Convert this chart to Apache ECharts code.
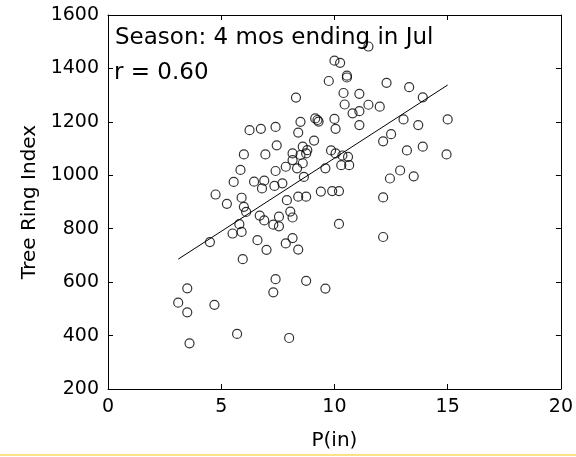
<!DOCTYPE html>
<html>
<head>
<meta charset="utf-8">
<script src="https://cdn.jsdelivr.net/npm/echarts@6/dist/echarts.min.js"></script>
<style>
  html, body { margin: 0; padding: 0; background: #fff; }
  #chart { width: 576px; height: 457px; }
</style>
</head>
<body>
<div id="chart"></div>
<script>
// Precipitation (in) for the 4-month season ending in July
const precipX = [
  3.5, 3.1, 3.5, 4.7, 3.6, 5.7, 8.0, 7.4, 7.3, 8.75,
  9.6, 5.95, 4.5, 5.5, 5.9, 5.8, 6.6, 7.0, 7.85, 8.15,
  8.4, 4.75, 5.25, 5.9, 6.0, 6.1, 6.7, 6.9, 7.3, 7.55,
  7.55, 7.9, 8.05, 8.15, 8.4, 8.75, 10.2, 9.4, 9.9, 10.2,
  6.0, 6.95, 5.85, 5.55, 6.45, 6.9, 7.4, 6.8, 7.35, 7.7,
  7.45, 6.25, 6.75, 7.4, 8.3, 8.5, 8.4, 8.6, 9.1, 8.8,
  8.15, 8.5, 8.75, 8.15, 8.6, 8.35, 7.85, 8.65, 9.15, 9.3,
  9.25, 9.75, 10.0, 10.25, 11.5, 10.55, 10.55, 12.3, 13.3, 13.9,
  10.4, 11.1, 10.45, 11.5, 12.0, 10.8, 11.1, 11.1, 10.0, 10.05,
  13.05, 13.7, 15.0, 12.5, 12.15, 13.2, 13.9, 14.95, 9.85, 10.05,
  10.35, 10.6, 10.3, 10.65, 9.6, 12.9, 12.45, 13.5, 12.15, 12.15
];

// Tree ring index for the same years
const ringIndex = [
  577, 523, 487, 515, 371, 406, 391, 611, 562, 605,
  576, 686, 750, 782, 788, 817, 757, 721, 745, 765,
  722, 928, 893, 916, 882, 863, 849, 831, 815, 809,
  845, 907, 864, 842, 920, 920, 818, 939, 941, 941,
  1078, 1078, 1020, 975, 976, 980, 1016, 951, 960, 970,
  1112, 1169, 1174, 1181, 1291, 1200, 1160, 1107, 1130, 1094,
  1082, 1076, 1082, 1057, 1045, 1026, 1032, 994, 1213, 1201,
  1207, 1353, 1429, 1421, 1482, 1373, 1366, 1346, 1330, 1292,
  1308, 1305, 1265, 1264, 1257, 1232, 1240, 1188, 1211, 1174,
  1209, 1188, 1209, 1154, 1127, 1093, 1107, 1078, 1093, 1082,
  1074, 1069, 1038, 1038, 1026, 1018, 988, 996, 917, 769
];

// Least-squares line end points
const fitX = [3.1, 15.0];
const fitY = [686, 1338];

// Axis ranges: [min, max, step]
const xRange = [0, 20, 5];
const yRange = [200, 1600, 200];

const seasonLabel = 'Season: 4 mos ending in Jul';
const corrLabel = 'r = 0.60';

const points = precipX.map((x, i) => [x, ringIndex[i]]);
const fitLine = fitX.map((x, i) => [x, fitY[i]]);

const FONT = '"DejaVu Sans", sans-serif';

function baseAxis(range, extra) {
  return Object.assign({
    type: 'value',
    min: range[0],
    max: range[1],
    interval: range[2],
    splitLine: { show: false },
    axisLine: { show: true, onZero: false, lineStyle: { color: '#000', width: 1 } },
    axisTick: { show: true, inside: true, length: 5, lineStyle: { color: '#000', width: 1 } }
  }, extra);
}

const chart = echarts.init(document.getElementById('chart'), null, { renderer: 'canvas' });

chart.setOption({
  animation: false,
  backgroundColor: '#fff',
  grid: { left: 108, right: 13, top: 15, bottom: 68, containLabel: false },
  xAxis: [
    baseAxis(xRange, {
      position: 'bottom',
      name: 'P(in)',
      nameLocation: 'middle',
      nameGap: 42,
      nameTextStyle: { color: '#000', fontFamily: FONT, fontSize: 20 },
      axisLabel: { color: '#000', fontFamily: FONT, fontSize: 19, margin: 9 }
    }),
    baseAxis(xRange, { position: 'top', axisLabel: { show: false } })
  ],
  yAxis: [
    baseAxis(yRange, {
      position: 'left',
      name: 'Tree Ring Index',
      nameLocation: 'middle',
      nameGap: 62,
      nameRotate: 90,
      nameTextStyle: { color: '#000', fontFamily: FONT, fontSize: 20 },
      axisLabel: {
        color: '#000', fontFamily: FONT, fontSize: 19, margin: 9,
        formatter: v => String(v)
      }
    }),
    baseAxis(yRange, { position: 'right', axisLabel: { show: false } })
  ],
  series: [
    {
      type: 'scatter',
      data: points,
      symbol: 'circle',
      symbolSize: 9,
      itemStyle: { color: 'rgba(0,0,0,0)', borderColor: '#000', borderWidth: 1.2 },
      z: 3
    },
    {
      type: 'line',
      data: fitLine,
      symbol: 'none',
      lineStyle: { color: '#000', width: 1 },
      z: 2
    }
  ],
  graphic: [
    {
      type: 'text',
      left: 115,
      top: 27,
      style: { text: seasonLabel, font: '23px ' + FONT, fill: '#000' }
    },
    {
      type: 'text',
      left: 114,
      top: 62,
      style: { text: corrLabel, font: '23px ' + FONT, fill: '#000' }
    },
    {
      type: 'rect',
      shape: { x: 0, y: 454, width: 576, height: 2 },
      style: { fill: '#ffe08a' }
    }
  ]
});
</script>
</body>
</html>
